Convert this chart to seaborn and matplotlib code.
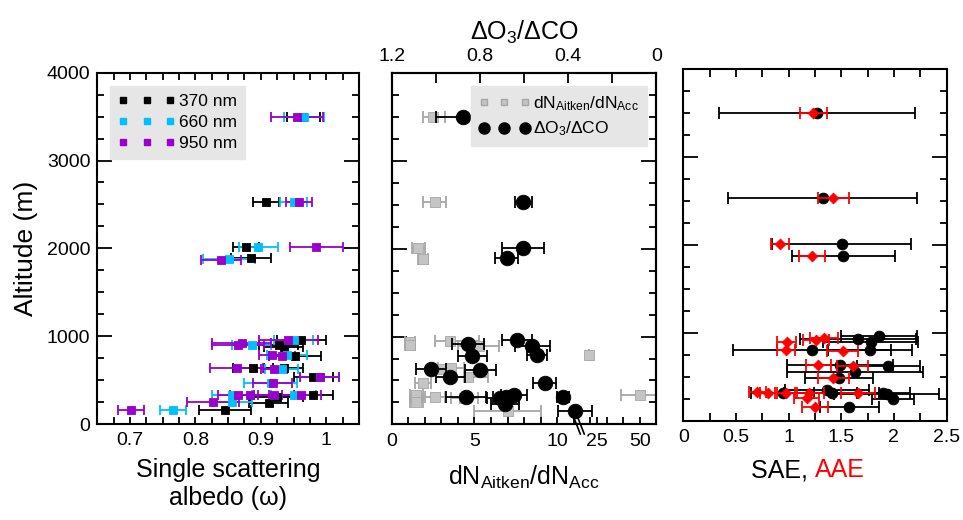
import numpy as np
import pandas as pd
import matplotlib
matplotlib.use("Agg")
import matplotlib.pyplot as plt
import matplotlib.transforms as mtransforms
from matplotlib.lines import Line2D
import seaborn as sns

# ---- left panel: single scattering albedo ----
alt_370 = [3500, 2530, 2020, 1890, 960, 900, 880, 780, 640, 635, 540, 330, 310, 240, 155]
ssa_370 = [0.965, 0.908, 0.877, 0.885, 0.962, 0.927, 0.935, 0.952, 0.888, 0.935, 0.980, 0.980, 0.925, 0.912, 0.845]
err_370 = [0.025, 0.020, 0.020, 0.030, 0.038, 0.030, 0.030, 0.040, 0.030, 0.030, 0.030, 0.030, 0.040, 0.030, 0.040]

alt_660 = [3500, 2530, 2010, 1880, 955, 900, 785, 630, 540, 470, 330, 325, 245, 155]
ssa_660 = [0.966, 0.950, 0.896, 0.851, 0.950, 0.886, 0.940, 0.932, 0.990, 0.915, 0.856, 0.950, 0.856, 0.766]
err_660 = [0.030, 0.020, 0.030, 0.040, 0.030, 0.030, 0.030, 0.025, 0.030, 0.040, 0.030, 0.035, 0.030, 0.020]

alt_950 = [3500, 2530, 2010, 1870, 960, 920, 900, 790, 780, 640, 630, 540, 470, 335, 330, 325, 330, 245, 155]
ssa_950 = [0.955, 0.958, 0.985, 0.839, 0.942, 0.871, 0.865, 0.917, 0.932, 0.863, 0.920, 0.990, 0.918,
           0.865, 0.883, 0.920, 0.962, 0.827, 0.702]
err_950 = [0.040, 0.020, 0.040, 0.030, 0.045, 0.045, 0.040, 0.020, 0.020, 0.040, 0.020, 0.030, 0.030,
           0.030, 0.030, 0.030, 0.030, 0.040, 0.020]

# ---- middle panel: dN_Aitken/dN_Acc (bottom axis) and dO3/dCO (top axis) ----
alt_dn = [3500, 2530, 2010, 1880, 955, 935, 905, 890, 795, 645, 635, 540, 470, 330, 315, 305, 255, 330, 150]
dn = [2.5, 2.6, 1.6, 1.9, 3.5, 1.1, 1.1, 5.3, 22.0, 3.6, 2.9, 4.6, 1.9, 1.5, 2.6, 4.4, 1.5, 50.0, 7.0]
dn_lo = [0.6, 0.7, 0.4, 0.3, 0.9, 0.3, 0.3, 1.3, 0.0, 0.8, 0.5, 1.2, 0.5, 0.4, 0.6, 0.8, 0.4, 13.5, 2.0]
dn_hi = [0.7, 0.7, 0.4, 0.3, 1.8, 0.3, 0.3, 1.2, 0.0, 0.8, 0.5, 1.2, 0.5, 0.4, 0.6, 0.8, 0.4, 15.0, 2.0]

alt_o3 = [3500, 2530, 2010, 1890, 957, 919, 889, 794, 779, 634, 622, 539, 471, 330, 311, 311, 300, 311, 228, 152]
o3 = [0.876, 0.603, 0.603, 0.679, 0.633, 0.854, 0.562, 0.542, 0.834, 1.021, 0.798, 0.934, 0.507,
      0.646, 0.864, 0.682, 0.710, 0.425, 0.687, 0.368]
o3_err = [0.125, 0.040, 0.095, 0.053, 0.068, 0.074, 0.078, 0.045, 0.065, 0.068, 0.070, 0.066, 0.053,
          0.060, 0.090, 0.060, 0.060, 0.027, 0.063, 0.078]

# ---- right panel: SAE and AAE ----
alt_sae = [3500, 2540, 2010, 1880, 967, 929, 902, 808, 808, 633, 625, 559, 485, 353, 322, 322, 315, 305, 246, 163]
sae = [1.267, 1.323, 1.504, 1.520, 1.858, 1.662, 1.780, 1.773, 1.219, 1.488, 1.947, 1.630, 1.480,
       1.361, 0.944, 1.900, 1.410, 1.931, 1.988, 1.577]
sae_err = [0.93, 0.90, 0.66, 0.49, 0.36, 0.55, 0.45, 0.40, 0.75, 0.50, 0.30, 0.65, 0.32,
           0.40, 0.30, 0.25, 0.45, 0.50, 0.20, 0.28]

alt_aae = [3500, 2540, 2010, 1880, 947, 921, 902, 808, 800, 633, 625, 485, 334, 322, 315, 315, 261, 322, 163]
aae = [1.236, 1.425, 0.918, 1.225, 1.336, 1.260, 0.981, 0.975, 1.513, 1.282, 1.608, 1.425, 0.703,
       0.808, 0.975, 1.197, 1.172, 1.656, 1.251]
aae_err = [0.125, 0.150, 0.090, 0.125, 0.130, 0.120, 0.090, 0.090, 0.150, 0.120, 0.150, 0.150, 0.080,
           0.080, 0.100, 0.140, 0.120, 0.160, 0.120]

C370, C660, C950 = "black", "#00bfff", "#9900cc"
GRAY, GRAY_E = "#c4c4c4", "#a6a6a6"

sns.set_theme(style="ticks")
plt.rcParams["font.family"] = ["Liberation Sans", "DejaVu Sans"]
plt.rcParams["mathtext.default"] = "regular"
plt.rcParams["axes.linewidth"] = 1.5
plt.rcParams["axes.edgecolor"] = "black"
for key in ("text.color", "axes.labelcolor", "xtick.color", "ytick.color"):
    plt.rcParams[key] = "black"

fig = plt.figure(figsize=(9.63, 5.2), dpi=100)
ax1 = fig.add_axes([0.101, 0.1846, 0.2718, 0.6756])
ax2 = fig.add_axes([0.4067, 0.1840, 0.2750, 0.6750])
ax3 = fig.add_axes([0.7096, 0.1904, 0.2733, 0.6763])


def draw(ax, x, y, err, color, marker, size, ecolor=None, cap=4, edge=None, z=3):
    df = pd.DataFrame({"x": x, "y": y})
    ax.errorbar(df["x"], df["y"], xerr=err, fmt="none", ecolor=ecolor or color,
                elinewidth=1.3, capsize=cap, capthick=1.3, zorder=z)
    sns.scatterplot(data=df, x="x", y="y", ax=ax, color=color, marker=marker, s=size,
                    edgecolor=edge or color, linewidth=0.6, zorder=z + 0.5, legend=False)


def style_y(ax, labels):
    ax.set_ylim(0, 4000)
    ax.set_yticks(np.arange(0, 4001, 1000))
    ax.set_yticks(np.arange(0, 4001, 250), minor=True)
    ax.tick_params(axis="y", which="both", direction="in", left=True, right=True,
                   labelleft=labels, labelsize=14, width=1.3, pad=5)
    ax.tick_params(axis="y", which="major", length=11)
    ax.tick_params(axis="y", which="minor", length=5)
    ax.set_ylabel("")


# left panel
draw(ax1, ssa_370, alt_370, err_370, C370, "s", 34, cap=3.6)
draw(ax1, ssa_660, alt_660, err_660, C660, "s", 34, cap=3.6)
draw(ax1, ssa_950, alt_950, err_950, C950, "s", 34, cap=3.6)
ax1.set_xlim(0.65, 1.05)
ax1.set_xticks([0.7, 0.8, 0.9, 1.0])
ax1.set_xticklabels(["0.7", "0.8", "0.9", "1"])
ax1.set_xticks(np.arange(0.65, 1.051, 0.025), minor=True)
ax1.tick_params(axis="x", which="both", direction="in", top=True, bottom=True,
                labelsize=14, length=5, width=1.3, pad=6)
style_y(ax1, True)
ax1.set_ylabel("Altitude (m)", fontsize=19, labelpad=6)
ax1.set_xlabel("Single scattering\nalbedo (\u03c9)", fontsize=18, labelpad=6, linespacing=1.25)
h1 = [Line2D([], [], ls="none", marker="s", color=c, markersize=5) for c in (C370, C660, C950)]
ax1.legend(h1, ["370 nm", "660 nm", "950 nm"], loc="upper left", bbox_to_anchor=(0.05, 0.963),
           borderaxespad=0, numpoints=3, handlelength=3.3, handletextpad=0.2, fontsize=12.5,
           labelspacing=0.35, borderpad=0.45, frameon=True, facecolor="#e6e6e6",
           edgecolor="#e6e6e6", framealpha=1, fancybox=False)

# middle panel: broken bottom axis
B, V0, K = 11.3, 18.6, 3.75


def fwd(v):
    v = np.asarray(v, dtype=float)
    return np.where(v <= B, v, np.where(v < V0, B, B + K * np.log(np.maximum(v, V0) / V0)))


def inv(u):
    u = np.asarray(u, dtype=float)
    return np.where(u <= B, u, V0 * np.exp((np.maximum(u, B) - B) / K))


ax2.set_xscale("function", functions=(fwd, inv))
ax2.errorbar(dn, alt_dn, xerr=[dn_lo, dn_hi], fmt="none", ecolor=GRAY_E, elinewidth=1.3,
             capsize=4, capthick=1.3, zorder=2)
sns.scatterplot(x=dn, y=alt_dn, ax=ax2, color=GRAY, marker="s", s=50, edgecolor=GRAY_E,
                linewidth=0.6, zorder=2.5, legend=False)
ax2.set_xlim(0, float(inv(16.0)))
ax2.set_xticks([0, 5, 10, 25, 50])
ax2.set_xticklabels(["0", "5", "10", "25", "50"])
ax2.set_xticks([1, 2, 3, 4, 6, 7, 8, 9, 11] + list(inv([12.0, 13.0, 14.0])), minor=True)
ax2.tick_params(axis="x", which="both", direction="in", labelsize=14, length=5, width=1.3, pad=6)
style_y(ax2, False)
ax2.set_xlabel("dN$_{Aitken}$/dN$_{Acc}$", fontsize=18, labelpad=10)

# axis break mark
trans = mtransforms.blended_transform_factory(ax2.transData, ax2.transAxes)
xb = float(fwd(B))
for dx in (-0.12, 0.12):
    ax2.plot(inv([xb + dx - 0.22, xb + dx + 0.22]), [0.025, -0.028], color="black", lw=1.2,
             transform=trans, clip_on=False, zorder=6)

ax2t = ax2.twiny()
draw(ax2t, o3, alt_o3, o3_err, "black", "o", 110, cap=4, z=4)
ax2t.set_xlim(1.2, 0)
ax2t.set_xticks([1.2, 0.8, 0.4, 0.0])
ax2t.set_xticklabels(["1.2", "0.8", "0.4", "0"])
ax2t.set_xticks([1.0, 0.6, 0.2], minor=True)
ax2t.tick_params(axis="x", which="both", direction="in", labelsize=14, length=7, width=1.3, pad=6)
ax2t.set_ylim(0, 4000)
ax2t.set_xlabel("\u0394O$_3$/\u0394CO", fontsize=18, labelpad=6)
ax2t.set_ylabel("")
h2 = [Line2D([], [], ls="none", marker="s", color=GRAY, markeredgecolor=GRAY_E, markersize=5),
      Line2D([], [], ls="none", marker="o", color="black", markersize=8)]
ax2t.legend(h2, ["dN$_{Aitken}$/dN$_{Acc}$", "\u0394O$_3$/\u0394CO"], loc="upper right",
            bbox_to_anchor=(0.963, 0.963), borderaxespad=0, numpoints=3, handlelength=3.0,
            handletextpad=0.15, fontsize=12.5, labelspacing=0.4, borderpad=0.45, frameon=True,
            facecolor="#e6e6e6", edgecolor="#e6e6e6", framealpha=1, fancybox=False)

# right panel
draw(ax3, sae, alt_sae, sae_err, "black", "o", 60, cap=4.3)
draw(ax3, aae, alt_aae, aae_err, "red", "D", 30, cap=4.3, z=4)
ax3.set_xlim(0, 2.5)
ax3.set_xticks([0, 0.5, 1, 1.5, 2, 2.5])
ax3.set_xticklabels(["0", "0.5", "1", "1.5", "2", "2.5"])
ax3.set_xticks(np.arange(0, 2.51, 0.25), minor=True)
ax3.tick_params(axis="x", which="both", direction="in", top=True, bottom=True,
                labelsize=14, length=6, width=1.3, pad=6)
style_y(ax3, False)
ax3.set_xlabel("")
ax3.text(0.5, -0.14, "SAE, ", transform=ax3.transAxes, ha="right", va="center", fontsize=18)
ax3.text(0.5, -0.14, "AAE", transform=ax3.transAxes, ha="left", va="center", fontsize=18, color="red")

fig.savefig("out.png", dpi=100)
